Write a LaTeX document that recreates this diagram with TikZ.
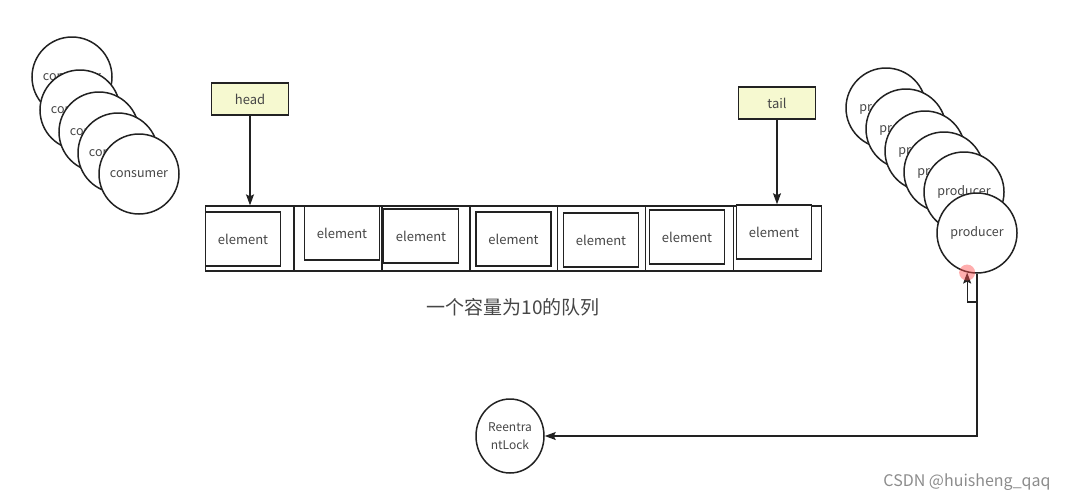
\documentclass[tikz,border=0pt]{standalone}
\usepackage{fontspec}
\setmainfont{Noto Sans CJK SC}
\usetikzlibrary{shapes.geometric, arrows.meta, positioning, calc}
\usepackage{xcolor}
\definecolor{linedark}{RGB}{34, 34, 34}
\definecolor{textgray}{RGB}{70, 70, 70}
\definecolor{notefill}{RGB}{246, 249, 208}
\definecolor{markgray}{RGB}{140, 140, 140}

\begin{document}
\begin{tikzpicture}[x=1pt, y=-1pt,
    thread/.style={circle, draw=linedark, line width=1.5pt, fill=white,
                   minimum size=80pt, inner sep=0pt, text=textgray, font=\fontsize{12.5}{14}\selectfont},
    cell/.style={rectangle, draw=linedark, line width=1.3pt, minimum width=88pt,
                 minimum height=65pt, inner sep=0pt},
    elem/.style={rectangle, draw=linedark, line width=1.5pt, fill=white, minimum width=75pt,
                 minimum height=54pt, inner sep=0pt, text=textgray, font=\fontsize{13}{15}\selectfont},
    pointer/.style={rectangle, draw=linedark, line width=1.5pt, fill=notefill, minimum width=77pt,
                    minimum height=32pt, inner sep=0pt, text=textgray, font=\fontsize{13}{15}\selectfont},
    link/.style={draw=linedark, line width=1.3pt, -{Stealth[length=11pt, width=8pt, inset=2pt]}}]

  % 画布边界
  \useasboundingbox (0,0) rectangle (1070,501);

  % 消费者线程（左侧叠放）
  \node[thread] (cons1) at (72,77)  {consumer};
  \node[thread] (cons2) at (80,110) {consumer};
  \node[thread] (cons3) at (99,132) {consumer};
  \node[thread] (cons4) at (118,153) {consumer};
  \node[thread] (cons5) at (139,174) {consumer};

  % 队列格子
  \node[cell] (cell1) at (249.5,238.5) {};
  \node[cell] (cell2) at (338,238.5)   {};
  \node[cell] (cell3) at (426,238.5)   {};
  \node[cell] (cell4) at (513.5,238.5) {};
  \node[cell] (cell5) at (601.5,238.5) {};
  \node[cell] (cell6) at (689.5,238.5) {};
  \node[cell] (cell7) at (777.5,238.5) {};

  % 队列元素（位置略有错落）
  \node[elem] (elem1) at (243,239)   {element};
  \node[elem] (elem2) at (342,233)   {element};
  \node[elem] (elem3) at (421,236)   {element};
  \node[elem] (elem4) at (513.5,239) {element};
  \node[elem] (elem5) at (601,240)   {element};
  \node[elem] (elem6) at (687,237)   {element};
  \node[elem] (elem7) at (774,232)   {element};

  % head / tail 指针
  \node[pointer] (head) at (250,99)  {head};
  \node[pointer] (tail) at (777,103) {tail};
  \draw[link] (head) -- (head |- cell1.north);
  \draw[link] (tail) -- (tail |- elem7.north);

  % 队列说明
  \node[text=textgray, font=\fontsize{19}{22}\selectfont] (qlabel) at (513,307) {一个容量为10的队列};

  % 生产者线程（右侧叠放）
  \node[thread] (prod1) at (886,108) {producer};
  \node[thread] (prod2) at (906,129) {producer};
  \node[thread] (prod3) at (925,151) {producer};
  \node[thread] (prod4) at (944,172) {producer};
  \node[thread] (prod5) at (964,192) {producer};
  \node[thread] (prod6) at (977,233) {producer};

  % 锁
  \node[ellipse, draw=linedark, line width=1.5pt, minimum width=68pt, minimum height=74pt,
        inner sep=0pt, align=center, text=textgray, font=\fontsize{12}{18}\selectfont]
    (lock) at (510,436) {Reentra\\ntLock};

  % 生产者与锁之间的连线
  \coordinate (kink) at (977,302);
  \draw[link] (prod6.south) |- (lock.east);
  \draw[link] (kink) -| (prod6.-104);

  % 鼠标高亮点
  \fill[red!70, opacity=0.45] (prod6.-104) circle (8);

  % 水印
  \node[text=markgray, font=\fontsize{16}{18}\selectfont] (mark) at (967,482) {CSDN @huisheng\_qaq};

\end{tikzpicture}
\end{document}
